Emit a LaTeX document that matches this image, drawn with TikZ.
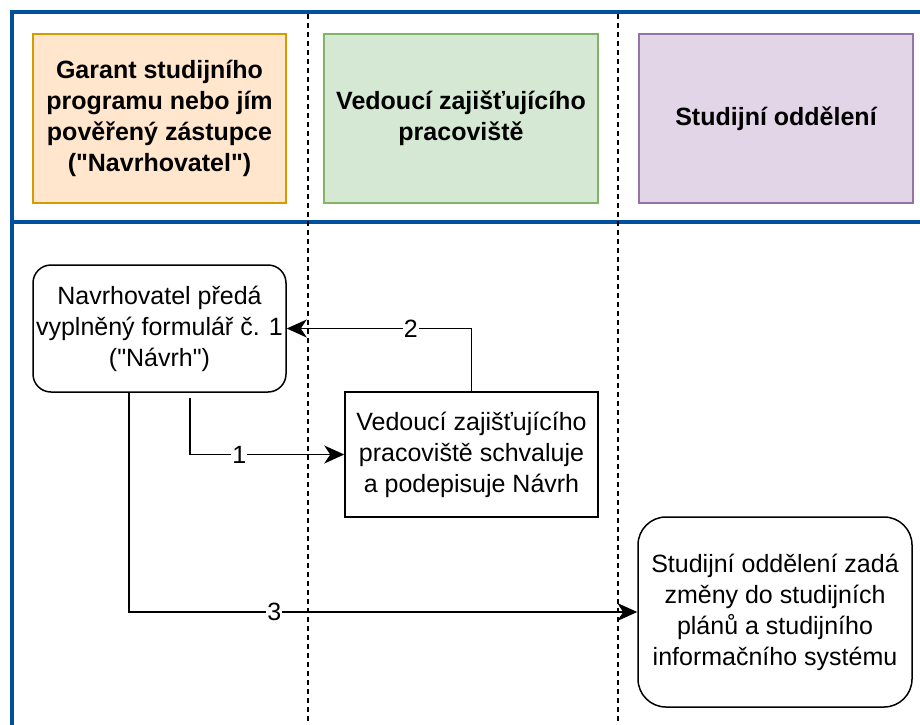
\documentclass[tikz,border=0pt]{standalone}
\usepackage{fontspec}
\setmainfont{Liberation Sans}[Ligatures=TeXOff]
\usetikzlibrary{arrows.meta}
\definecolor{poolblue}{RGB}{0,80,158}
\definecolor{garfill}{HTML}{FFE6CC}
\definecolor{garline}{HTML}{D79B00}
\definecolor{vedfill}{HTML}{D5E8D4}
\definecolor{vedline}{HTML}{82B366}
\definecolor{stufill}{HTML}{E1D5E7}
\definecolor{stuline}{HTML}{9673A6}
\tikzset{
  role/.style={draw, line width=1.5pt, inner sep=0pt, minimum height=169pt,
    align=center, font=\fontsize{25}{31}\selectfont\bfseries},
  task/.style={draw, line width=1.5pt, inner sep=0pt, align=center,
    font=\fontsize{25}{31}\selectfont},
  conn/.style={line width=1.5pt, -{Stealth[length=20pt,width=18pt,inset=6pt]}},
  num/.style={fill=white, inner sep=1pt, font=\fontsize{25}{31}\selectfont},
  lanesep/.style={line width=1.5pt, dash pattern=on 5pt off 4pt}
}
\begin{document}
\begin{tikzpicture}[x=1pt,y=-1pt]
  \useasboundingbox (0,0) rectangle (920,724);
  \clip (0,0) rectangle (920,724);
  % pool frame and lanes
  \draw[poolblue, line width=3.5pt] (12,730) -- (12,12) -- (930,12);
  \draw[poolblue, line width=3.5pt] (12,222) -- (930,222);
  \foreach \x in {308,618}
    \draw[lanesep] (\x,14) -- (\x,724);
  % lane headers
  \node[role, fill=garfill, draw=garline, minimum width=253pt] (garant) at (159.5,118.5)
    {Garant studijního\\programu nebo jím\\pověřený zástupce\\("Navrhovatel")};
  \node[role, fill=vedfill, draw=vedline, minimum width=274pt] (vedouci) at (461,118.5)
    {Vedoucí zajišťujícího\\pracoviště};
  \node[role, fill=stufill, draw=stuline, minimum width=274pt] (studijni) at (776,118.5)
    {Studijní oddělení};
  % steps
  \node[task, rounded corners=18pt, minimum width=253pt, minimum height=127pt] (navrh) at (159.5,328.5)
    {Navrhovatel předá\\vyplněný formulář č. 1\\("Návrh")};
  \node[task, minimum width=253pt, minimum height=125pt] (schval) at (471.5,454.5)
    {Vedoucí zajišťujícího\\pracoviště schvaluje\\a podepisuje Návrh};
  \node[task, rounded corners=28pt, minimum width=274pt, minimum height=190pt] (zadani) at (775,612)
    {Studijní oddělení zadá\\změny do studijních\\plánů a studijního\\informačního systému};
  \coordinate (s1) at (190,398);
  \coordinate (s3) at (129,392);
  \draw[conn] (s1) |- node[num, pos=0.66]{1} (schval.west);
  \draw[conn] (schval.north) |- node[num, pos=0.664]{2} (navrh.east);
  \draw[conn] (s3) |- node[num, pos=0.643]{3} (zadani.west);
\end{tikzpicture}
\end{document}
